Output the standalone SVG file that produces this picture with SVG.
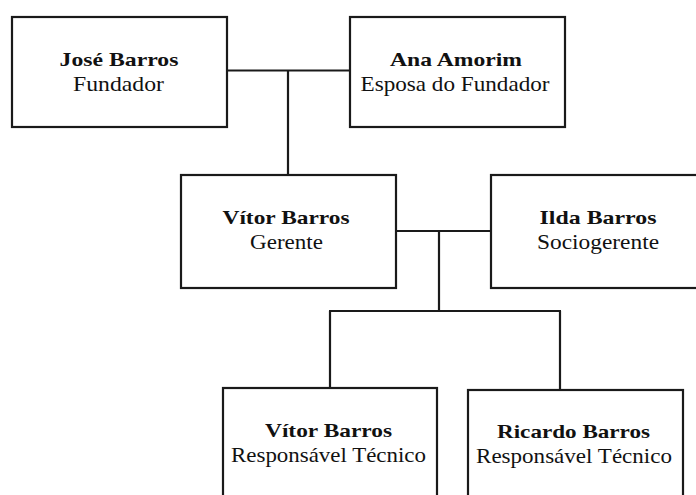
<svg xmlns="http://www.w3.org/2000/svg" width="696" height="495" viewBox="0 0 696 495">
<style>
.box{fill:#fff;stroke:#1a1a1a;stroke-width:2.2}
.conn{fill:none;stroke:#1a1a1a;stroke-width:2.2}
.n{font-family:"Liberation Serif","Times New Roman",serif;font-weight:bold;font-size:19px;fill:#111;text-anchor:middle}
.r{font-family:"Liberation Serif","Times New Roman",serif;font-size:20px;fill:#111;text-anchor:middle}
</style>
<rect width="696" height="495" fill="#fff"/>
<g id="connectors">
<path class="conn" d="M227 70.5H350M288 70.5V175M396 231H491M439 231V311M329 311H561M330 311V388M560 311V390"/>
</g>
<g id="jose">
<rect class="box" x="12" y="17" width="215" height="110"/>
<text class="n" transform="translate(119 66) scale(1.25 1)" textLength="95.2" lengthAdjust="spacingAndGlyphs">José Barros</text>
<text class="r" transform="translate(118.5 91) scale(1.2 1)" textLength="75.8" lengthAdjust="spacingAndGlyphs">Fundador</text>
</g>
<g id="ana">
<rect class="box" x="350" y="17" width="215" height="110"/>
<text class="n" transform="translate(456 66) scale(1.25 1)" textLength="105.6" lengthAdjust="spacingAndGlyphs">Ana Amorim</text>
<text class="r" transform="translate(455 91) scale(1.2 1)" textLength="157.5" lengthAdjust="spacingAndGlyphs">Esposa do Fundador</text>
</g>
<g id="vitor-gerente">
<rect class="box" x="181" y="175" width="215" height="113"/>
<text class="n" transform="translate(286 224) scale(1.25 1)" textLength="101.6" lengthAdjust="spacingAndGlyphs">Vítor Barros</text>
<text class="r" transform="translate(286.5 249) scale(1.2 1)" textLength="60.8" lengthAdjust="spacingAndGlyphs">Gerente</text>
</g>
<g id="ilda">
<rect class="box" x="491" y="175" width="215" height="113"/>
<text class="n" transform="translate(598 224) scale(1.25 1)" textLength="93.6" lengthAdjust="spacingAndGlyphs">Ilda Barros</text>
<text class="r" transform="translate(598 249) scale(1.2 1)" textLength="101.7" lengthAdjust="spacingAndGlyphs">Sociogerente</text>
</g>
<g id="vitor-tecnico">
<rect class="box" x="223" y="388" width="214" height="120"/>
<text class="n" transform="translate(328.5 437) scale(1.25 1)" textLength="101.6" lengthAdjust="spacingAndGlyphs">Vítor Barros</text>
<text class="r" transform="translate(328.5 462) scale(1.2 1)" textLength="162.5" lengthAdjust="spacingAndGlyphs">Responsável Técnico</text>
</g>
<g id="ricardo">
<rect class="box" x="468" y="390" width="215" height="120"/>
<text class="n" transform="translate(573.5 438) scale(1.25 1)" textLength="122.4" lengthAdjust="spacingAndGlyphs">Ricardo Barros</text>
<text class="r" transform="translate(574 463) scale(1.2 1)" textLength="163.3" lengthAdjust="spacingAndGlyphs">Responsável Técnico</text>
</g>
</svg>
